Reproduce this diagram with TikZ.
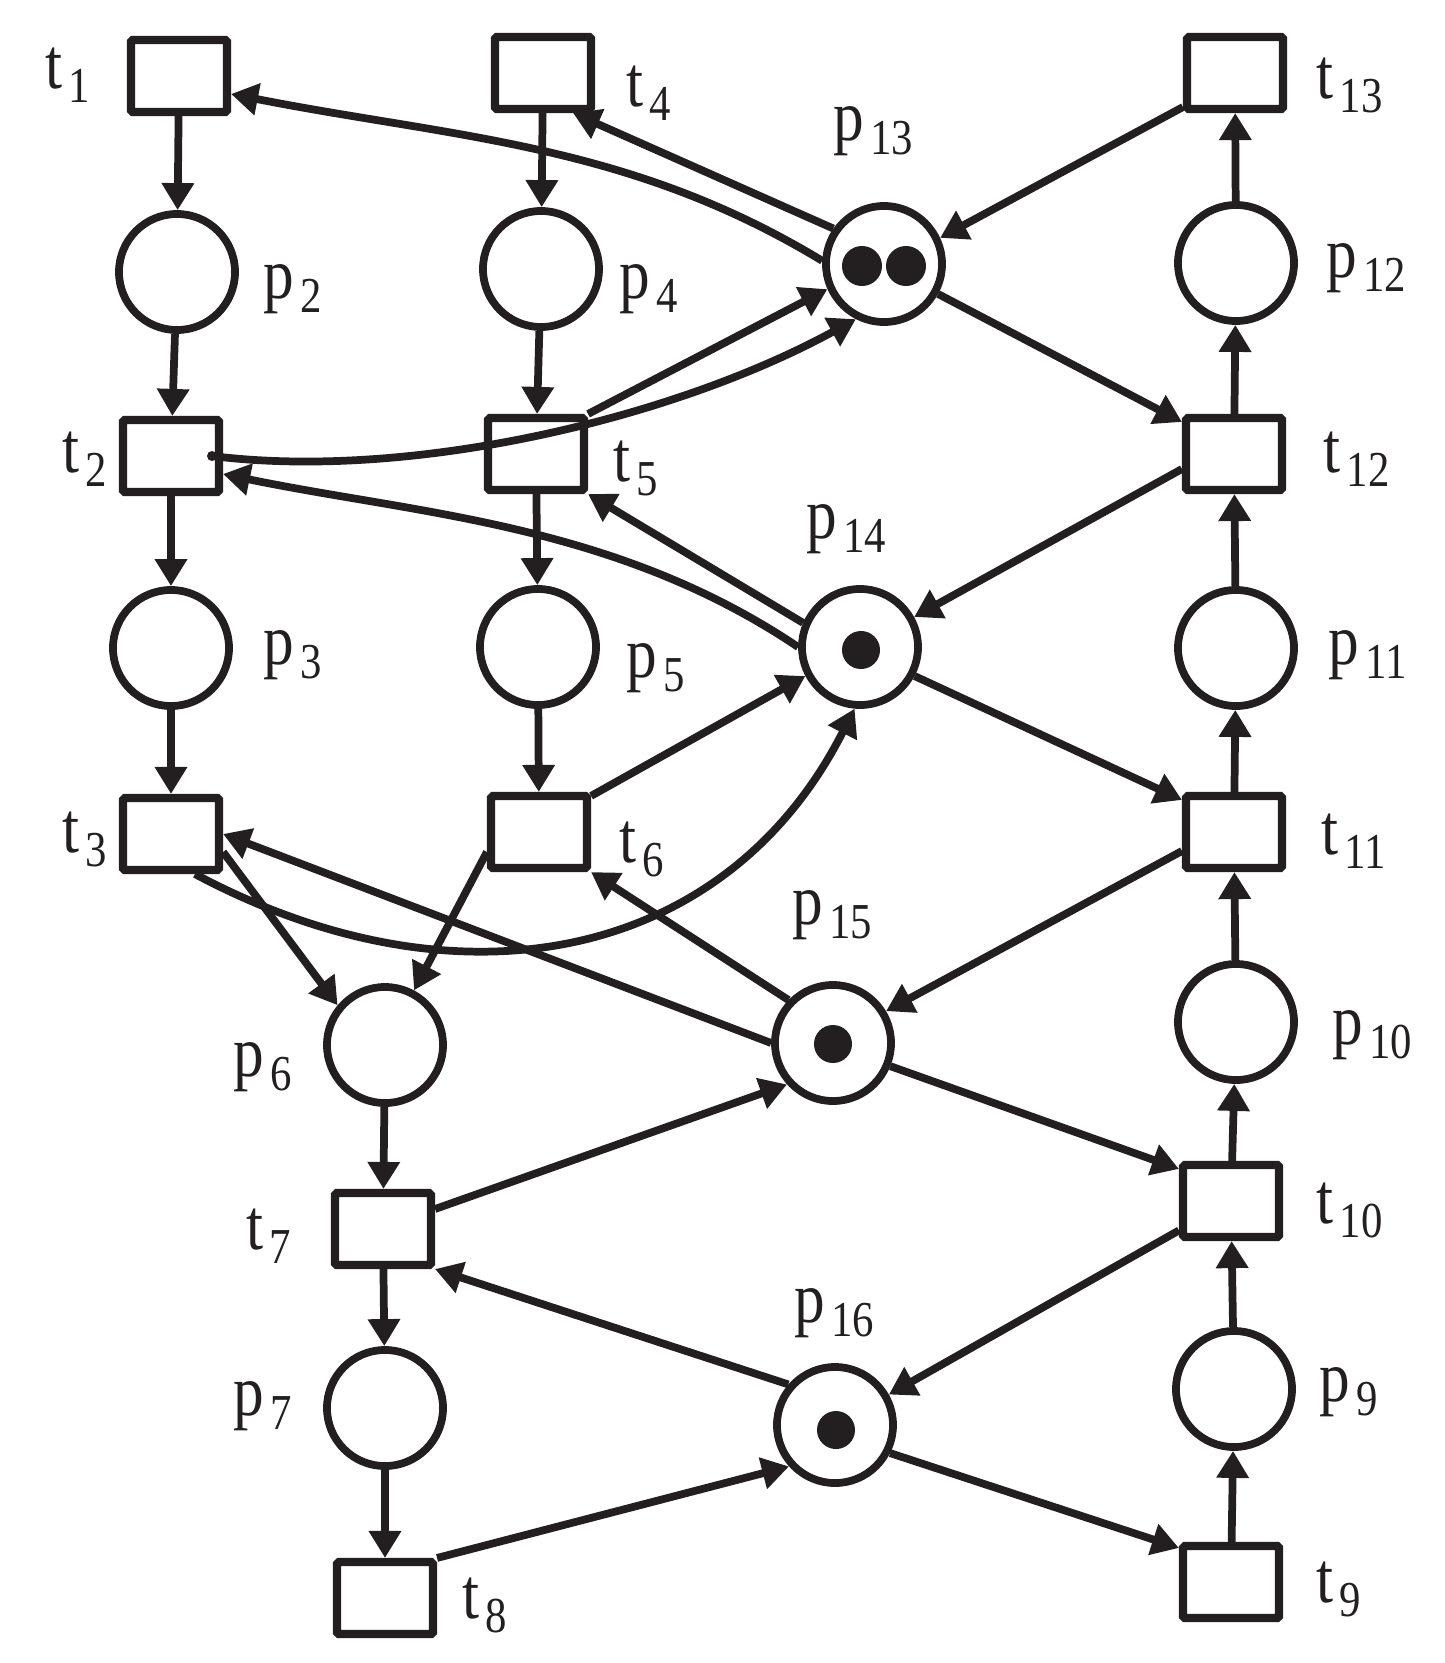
\documentclass[tikz,border=0pt]{standalone}
\usepackage{fontspec}
\setmainfont{Liberation Serif}
\usetikzlibrary{arrows.meta,calc}
\definecolor{ink}{RGB}{35,31,32}
\newcommand\lbl[2]{\scalebox{0.85}[1]{#1\kern0.1em\raisebox{-0.2em}{\fontsize{14.3pt}{15pt}\selectfont #2}}}
\begin{document}
\begin{tikzpicture}[x=0.01cm,y=-0.01cm,
  trans/.style={draw=ink,line width=2.3pt,minimum width=0.96cm,minimum height=0.72cm,inner sep=0pt,rounded corners=0.5pt},
  place/.style={draw=ink,circle,line width=2.2pt,minimum size=1.16cm,inner sep=0pt},
  arc/.style={draw=ink,line width=2.2pt,-{Triangle[length=0.27cm,width=0.31cm]}},
  lab/.style={inner sep=0pt,anchor=base west,font=\fontsize{20.5pt}{24pt}\selectfont,text=ink},
  tok/.style={fill=ink}
]
\useasboundingbox (0,0) rectangle (1445,1663);
% transitions
\node[trans] (t1) at (179,76) {};
\node[trans] (t4) at (543,73) {};
\node[trans] (t13) at (1235,73) {};
\node[trans] (t2) at (171,456) {};
\node[trans] (t5) at (536,454) {};
\node[trans] (t12) at (1234,454) {};
\node[trans] (t3) at (171,834) {};
\node[trans] (t6) at (539,832) {};
\node[trans] (t11) at (1234,832) {};
\node[trans] (t7) at (383,1229) {};
\node[trans] (t10) at (1231,1201) {};
\node[trans] (t8) at (385,1598) {};
\node[trans] (t9) at (1231,1582) {};
% places
\node[place] (p2) at (177,272) {};
\node[place] (p4) at (541,269) {};
\node[place] (p13) at (884,264) {};
\node[place] (p12) at (1236,263) {};
\node[place] (p3) at (171,648) {};
\node[place] (p5) at (538,647) {};
\node[place] (p14) at (860,647) {};
\node[place] (p11) at (1236,648) {};
\node[place] (p6) at (385,1045) {};
\node[place] (p15) at (833,1043) {};
\node[place] (p10) at (1236,1022) {};
\node[place] (p7) at (385,1408) {};
\node[place] (p16) at (835,1425) {};
\node[place] (p9) at (1234,1389) {};
% tokens
\fill[tok] (862,266) circle[radius=0.2cm];
\fill[tok] (906,266) circle[radius=0.2cm];
\fill[tok] (861,650) circle[radius=0.19cm];
\fill[tok] (833,1044) circle[radius=0.19cm];
\fill[tok] (836,1430) circle[radius=0.19cm];
% vertical arcs
\draw[arc] (t1) -- (p2);
\draw[arc] (p2) -- (t2);
\draw[arc] (t2) -- (p3);
\draw[arc] (p3) -- (t3);
\draw[arc] (t4) -- (p4);
\draw[arc] (p4) -- (t5);
\draw[arc] (t5) -- (p5);
\draw[arc] (p5) -- (t6);
\draw[arc] (p6) -- (t7);
\draw[arc] (t7) -- (p7);
\draw[arc] (p7) -- (t8);
\draw[arc] (t9) -- (p9);
\draw[arc] (p9) -- (t10);
\draw[arc] (t10) -- (p10);
\draw[arc] (p10) -- (t11);
\draw[arc] (t11) -- (p11);
\draw[arc] (p11) -- (t12);
\draw[arc] (t12) -- (p12);
\draw[arc] (p12) -- (t13);
% p13
\draw[arc] ($(t13.south west)+(0,-6)$) -- (p13.25);
\draw[arc] (p13.-29) -- ($(t12.north west)+(0,8)$);
\draw[arc] (p13.145) -- ($(t4.south east)+(-22,0)$);
\draw[arc] (p13.177) .. controls (628,143) and (455,138) .. ($(t1.east)+(0,18)$);
\draw[arc] (t5.north east) -- (p13.204);
\coordinate (t2s) at ($(t2.center)+(41,0)$);
\fill[ink] (t2s) circle[radius=0.05cm];
\draw[arc] (t2s) .. controls (412,481) and (675,418) .. (p13.243);
% p14
\draw[arc] (p14.157) -- (t5.south east);
\draw[arc] (p14.180) .. controls (614,523) and (416,514) .. ($(t2.east)+(0,18)$);
\draw[arc] ($(t12.west)+(0,15)$) -- (p14.29);
\draw[arc] (p14.-28) -- ($(t11.north west)+(0,8)$);
\draw[arc] ($(t6.north east)+(0,4)$) -- (p14.208);
\draw[arc] ($(t3.south)+(24,0)$) .. controls (459,1015) and (726,962) .. (p14.265);
% p6
\draw[arc] ($(t3.east)+(0,18)$) -- (p6.140);
\draw[arc] ($(t6.west)+(0,20)$) -- (p6.62);
% p15
\draw[arc] (p15.west) -- (t3.east);
\draw[arc] (p15.136) -- (t6.south east);
\draw[arc] ($(t11.west)+(0,19)$) -- (p15.31);
\draw[arc] (p15.-22) -- ($(t10.north west)+(0,8)$);
\draw[arc] ($(t7.east)+(0,-20)$) -- (p15.222);
% p16
\draw[arc] (p16.139) -- (t7.south east);
\draw[arc] (t10) -- (p16);
\draw[arc] (t8.north east) -- (p16.222);
\draw[arc] (p16.-27) -- ($(t9.north west)+(0,6)$);
% labels
\node[lab] (Lt1) at (45,88) {\lbl{t}{1}};
\node[lab] (Lt4) at (626,106) {\lbl{t}{4}};
\node[lab] (Lt13) at (1316,98) {\lbl{t}{13}};
\node[lab] (Lp13) at (833,140) {\lbl{p}{13}};
\node[lab] (Lp2) at (263,298) {\lbl{p}{2}};
\node[lab] (Lp4) at (619,298) {\lbl{p}{4}};
\node[lab] (Lp12) at (1326,277) {\lbl{p}{12}};
\node[lab] (Lt2) at (62,472) {\lbl{t}{2}};
\node[lab] (Lt5) at (613,481) {\lbl{t}{5}};
\node[lab] (Lt12) at (1323,472) {\lbl{t}{12}};
\node[lab] (Lp14) at (806,538) {\lbl{p}{14}};
\node[lab] (Lp3) at (263,664) {\lbl{p}{3}};
\node[lab] (Lp5) at (626,677) {\lbl{p}{5}};
\node[lab] (Lp11) at (1328,664) {\lbl{p}{11}};
\node[lab] (Lt3) at (62,852) {\lbl{t}{3}};
\node[lab] (Lt6) at (619,862) {\lbl{t}{6}};
\node[lab] (Lt11) at (1321,854) {\lbl{t}{11}};
\node[lab] (Lp15) at (792,924) {\lbl{p}{15}};
\node[lab] (Lp6) at (233,1076) {\lbl{p}{6}};
\node[lab] (Lp10) at (1332,1044) {\lbl{p}{10}};
\node[lab] (Lt7) at (246,1249) {\lbl{t}{7}};
\node[lab] (Lt10) at (1316,1223) {\lbl{t}{10}};
\node[lab] (Lp16) at (794,1322) {\lbl{p}{16}};
\node[lab] (Lp7) at (233,1415) {\lbl{p}{7}};
\node[lab] (Lp9) at (1319,1401) {\lbl{p}{9}};
\node[lab] (Lt8) at (462,1618) {\lbl{t}{8}};
\node[lab] (Lt9) at (1316,1602) {\lbl{t}{9}};
\end{tikzpicture}
\end{document}
